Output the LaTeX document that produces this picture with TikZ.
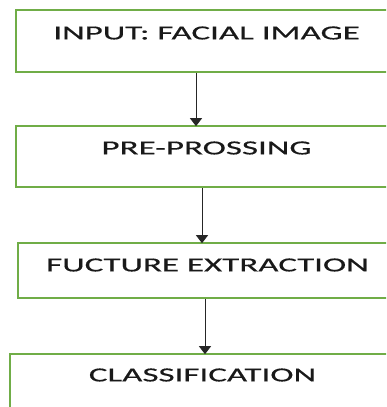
\documentclass[tikz,border=0pt]{standalone}
\usepackage{fontspec}
\setmainfont{Carlito}[FakeStretch=1.75,FakeBold=0.4]
\usetikzlibrary{arrows.meta}
\definecolor{boxgreen}{RGB}{112,173,71}
\definecolor{txt}{RGB}{25,25,25}
\tikzset{
  stagebox/.style={draw=boxgreen, line width=1.6pt, rectangle, inner sep=0pt},
  stagetext/.style={text=txt, font=\fontsize{20}{22}\selectfont, inner sep=0pt, anchor=center},
  flowarrow/.style={draw=black!85, line width=1pt, -{Triangle[width=12pt,length=8pt]}, shorten >=-1pt}
}
\begin{document}
\begin{tikzpicture}[x=1pt,y=-1pt]
\useasboundingbox (0,0) rectangle (386,407);
\clip (0,0) rectangle (386,407);
% boxes
\node[stagebox, minimum width=400pt, minimum height=62pt] (b1) at (216,41) {};
\node[stagebox, minimum width=400pt, minimum height=61pt] (b2) at (216,156.5) {};
\node[stagebox, minimum width=400pt, minimum height=55pt] (b3) at (218,270.5) {};
\node[stagebox, minimum width=400pt, minimum height=80pt] (b4) at (210,394) {};
% texts
\node[stagetext] (t1) at (206.5,33) {INPUT: FACIAL IMAGE};
\node[stagetext] (t2) at (206.5,148) {PRE-PROSSING};
\node[stagetext] (t3) at (207.5,265) {FUCTURE EXTRACTION};
\node[stagetext] (t4) at (202.5,375) {CLASSIFICATION};
% arrow columns
\coordinate (c1) at (196,0);
\coordinate (c2) at (202,0);
\coordinate (c3) at (205,0);
\draw[flowarrow] (b1.south -| c1) -- (b2.north -| c1);
\draw[flowarrow] (b2.south -| c2) -- (b3.north -| c2);
\draw[flowarrow] (b3.south -| c3) -- (b4.north -| c3);
\end{tikzpicture}
\end{document}
